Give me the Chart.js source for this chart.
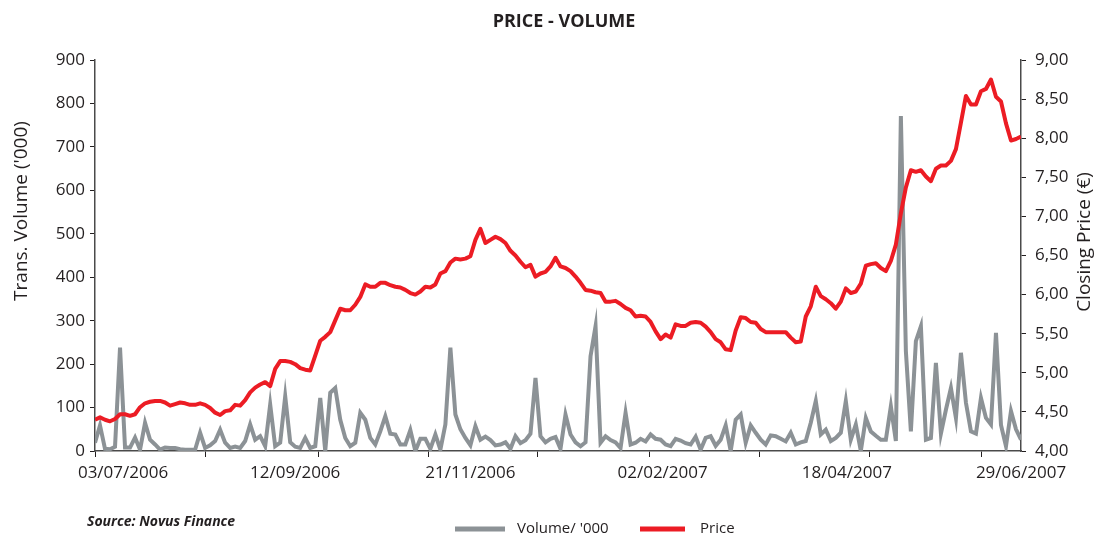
<!DOCTYPE html>
<html>
<head>
<meta charset="utf-8">
<script src="https://cdn.jsdelivr.net/npm/chart.js@4.4.1/dist/chart.umd.min.js"></script>
<style>
  html, body { margin: 0; padding: 0; background: #fff; }
  #wrap { width: 1098px; height: 536px; }
</style>
</head>
<body>
<div id="wrap"><canvas id="pv" width="1098" height="536"></canvas></div>
<script>
// ── DATA ──────────────────────────────────────────────
// sessions are evenly spaced samples from 03/07/2006 to 29/06/2007
const dateLabels = ['03/07/2006', '12/09/2006', '21/11/2006', '02/02/2007', '18/04/2007', '29/06/2007'];
const dateLabelAt = [5.6, 40, 75, 113.4, 150.2, 185];
const tickMarksAt = [0, 22.1, 44.6, 66.6, 88.4, 110.8, 132.8, 154.8, 177.2];
const volTicks = [0, 100, 200, 300, 400, 500, 600, 700, 800, 900];
const priceTicks = [4, 4.5, 5, 5.5, 6, 6.5, 7, 7.5, 8, 8.5, 9];

const volume = [
    19, 59, 5, 4, 10, 238, 8, 8, 31, 3, 65, 26, 15, 3, 8, 7, 7, 4, 3, 3,
    3, 42, 7, 13, 23, 49, 19, 7, 10, 7, 23, 61, 26, 34, 11, 107, 11, 19, 126, 20,
    10, 7, 30, 7, 11, 122, 0, 134, 145, 72, 30, 11, 19, 88, 72, 30, 15, 45, 80, 40,
    38, 15, 15, 48, 0, 28, 28, 5, 38, 3, 61, 238, 84, 50, 30, 13, 57, 26, 33, 25,
    13, 15, 20, 5, 34, 18, 25, 40, 168, 34, 20, 28, 32, 5, 84, 38, 20, 11, 20, 218,
    287, 19, 34, 25, 20, 7, 88, 15, 19, 28, 22, 38, 28, 26, 15, 11, 28, 24, 18, 15,
    33, 3, 30, 34, 12, 26, 59, 0, 72, 84, 19, 59, 42, 26, 15, 36, 34, 28, 22, 42,
    15, 20, 23, 65, 115, 38, 49, 23, 30, 42, 115, 26, 61, 0, 76, 45, 35, 26, 26, 103,
    23, 771, 230, 45, 253, 287, 26, 30, 203, 40, 95, 145, 76, 226, 111, 45, 40, 122, 76, 61,
    272, 60, 11, 92, 50, 26
];

const price = [
    4.40, 4.43, 4.40, 4.38, 4.41, 4.47, 4.47, 4.45, 4.47, 4.56, 4.61, 4.63, 4.64, 4.64, 4.62, 4.58, 4.60, 4.62, 4.61, 4.59,
    4.59, 4.61, 4.59, 4.55, 4.49, 4.46, 4.51, 4.52, 4.59, 4.58, 4.65, 4.75, 4.81, 4.85, 4.88, 4.83, 5.05, 5.15, 5.15, 5.14,
    5.11, 5.06, 5.04, 5.03, 5.22, 5.41, 5.46, 5.52, 5.67, 5.82, 5.80, 5.80, 5.87, 5.97, 6.13, 6.10, 6.10, 6.15, 6.15, 6.12,
    6.10, 6.09, 6.06, 6.02, 6.00, 6.04, 6.10, 6.09, 6.13, 6.27, 6.30, 6.41, 6.46, 6.45, 6.46, 6.49, 6.70, 6.84, 6.66, 6.70,
    6.74, 6.71, 6.66, 6.56, 6.50, 6.42, 6.35, 6.38, 6.23, 6.27, 6.29, 6.36, 6.47, 6.36, 6.34, 6.30, 6.23, 6.15, 6.06, 6.05,
    6.03, 6.02, 5.91, 5.91, 5.92, 5.88, 5.83, 5.80, 5.72, 5.73, 5.72, 5.65, 5.53, 5.43, 5.49, 5.45, 5.62, 5.60, 5.60, 5.64,
    5.65, 5.64, 5.59, 5.52, 5.43, 5.39, 5.30, 5.29, 5.54, 5.71, 5.70, 5.65, 5.64, 5.56, 5.52, 5.52, 5.52, 5.52, 5.52, 5.45,
    5.39, 5.40, 5.72, 5.85, 6.10, 5.98, 5.94, 5.89, 5.82, 5.91, 6.08, 6.02, 6.04, 6.14, 6.37, 6.39, 6.40, 6.34, 6.30, 6.43,
    6.64, 7.04, 7.37, 7.59, 7.57, 7.59, 7.51, 7.45, 7.61, 7.65, 7.65, 7.71, 7.86, 8.20, 8.54, 8.43, 8.43, 8.60, 8.63, 8.75,
    8.53, 8.47, 8.19, 7.97, 7.99, 8.02
];

// ── STYLE ─────────────────────────────────────────────
const INK = '#231f20', GREY = '#8c9296', RED = '#ec1c24';
const FONT = '"Open Sans", "Noto Sans", sans-serif';

// ── TEXTS OUTSIDE THE PLOT ────────────────────────────
const extras = {
    id: 'extras',
    afterDraw(chart) {
        const c = chart.ctx;
        c.save();
        c.fillStyle = INK;
        c.textBaseline = 'middle';

        c.font = 'bold 18px ' + FONT; c.textAlign = 'center';
        c.fillText('PRICE - VOLUME', 564, 22);

        c.font = '19px ' + FONT;
        c.save(); c.translate(22, 211); c.rotate(-Math.PI / 2); c.fillText("Trans. Volume ('000)", 0, 0); c.restore();
        c.save(); c.translate(1085, 242); c.rotate(-Math.PI / 2); c.fillText('Closing Price (€)', 0, 0); c.restore();

        c.font = 'italic bold 14px ' + FONT; c.textAlign = 'left';
        c.fillText('Source: Novus Finance', 87, 522);

        c.font = '15px ' + FONT;
        c.lineWidth = 5;
        c.strokeStyle = GREY; c.beginPath(); c.moveTo(455, 529); c.lineTo(505, 529); c.stroke();
        c.fillText("Volume/ '000", 517, 529);
        c.strokeStyle = RED; c.beginPath(); c.moveTo(640, 529); c.lineTo(685, 529); c.stroke();
        c.fillText('Price', 700, 529);
        c.restore();
    }
};

const asPoints = arr => arr.map((v, i) => ({ x: i, y: v }));
const setTicks = list => scale => { scale.ticks = list.map(v => ({ value: v })); };

new Chart(document.getElementById('pv'), {
    type: 'line',
    data: {
        datasets: [
            { label: 'Price', data: asPoints(price), yAxisID: 'yPrice', borderColor: RED, borderWidth: 4, order: 1,
              pointRadius: 0, tension: 0, borderJoinStyle: 'round' },
            { label: "Volume/ '000", data: asPoints(volume), yAxisID: 'yVol', borderColor: GREY, borderWidth: 4, order: 2,
              pointRadius: 0, tension: 0, borderJoinStyle: 'miter' }
        ]
    },
    options: {
        responsive: false,
        animation: false,
        devicePixelRatio: 1,
        layout: { padding: { top: 60, left: 0, right: 0, bottom: 0 } },
        plugins: { legend: { display: false }, tooltip: { enabled: false }, title: { display: false } },
        scales: {
            x: {
                type: 'linear', position: 'bottom', min: 0, max: volume.length - 1, weight: 0,
                afterBuildTicks: setTicks(tickMarksAt),
                afterFit: s => { s.height = 6; },
                ticks: { display: false },
                grid: { drawOnChartArea: false, drawTicks: true, tickLength: 6, color: INK, lineWidth: 1 },
                border: { display: true, color: '#4a4a4a', width: 1.5 }
            },
            xDates: {
                type: 'linear', position: 'bottom', min: 0, max: volume.length - 1, weight: 1,
                afterBuildTicks: setTicks(dateLabelAt),
                afterFit: s => { s.height = 79; },
                ticks: { autoSkip: false, maxRotation: 0, padding: 6, color: INK, font: { family: FONT, size: 17 },
                         callback: (v, i) => dateLabels[i] },
                grid: { display: false, drawTicks: false, tickLength: 0 },
                border: { display: false }
            },
            yVol: {
                type: 'linear', position: 'left', min: 0, max: 900,
                afterBuildTicks: setTicks(volTicks),
                afterFit: s => { s.width = 95; },
                ticks: { padding: 5, color: INK, font: { family: FONT, size: 17 } },
                grid: { drawOnChartArea: false, tickLength: 5, color: INK },
                border: { display: true, color: '#4a4a4a', width: 1.5 }
            },
            yPrice: {
                type: 'linear', position: 'right', min: 4, max: 9,
                afterBuildTicks: setTicks(priceTicks),
                afterFit: s => { s.width = 77; },
                ticks: { padding: 9, color: INK, font: { family: FONT, size: 17 },
                         callback: v => v.toFixed(2).replace('.', ',') },
                grid: { drawOnChartArea: false, tickLength: 5, color: INK },
                border: { display: true, color: '#4a4a4a', width: 1.5 }
            }
        }
    },
    plugins: [extras]
});
</script>
</body>
</html>
